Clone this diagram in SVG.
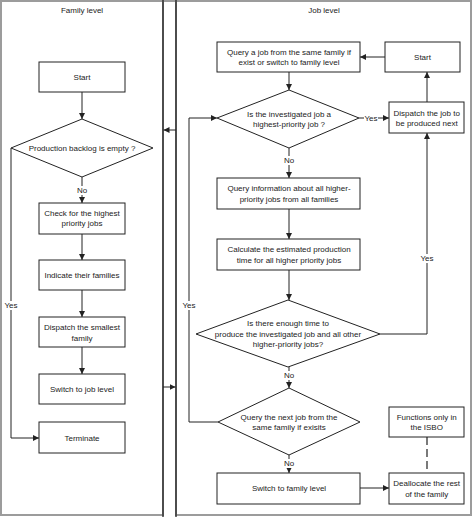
<svg xmlns="http://www.w3.org/2000/svg" width="474" height="517" viewBox="0 0 474 517">
<style>
.frame{fill:#fff;stroke:#9c9c9c;stroke-width:2}
.div{stroke:#222;stroke-width:1.3;fill:none}
.box{fill:#fff;stroke:#222;stroke-width:1}
.ln{fill:none;stroke:#222;stroke-width:1}
.dash{fill:none;stroke:#222;stroke-width:1.2;stroke-dasharray:8,4}
text{font-family:"Liberation Sans",Arial,sans-serif;font-size:8px;fill:#222;text-anchor:middle}
.lbg{fill:#fff;stroke:none}
</style>
<defs>
<marker id="ah" viewBox="0 0 6 6" refX="6" refY="3" markerWidth="6" markerHeight="6" markerUnits="userSpaceOnUse" orient="auto">
<path d="M0,0 L6,3 L0,6 z" fill="#222"/>
</marker>
</defs>

<g id="panels">
<rect class="frame" x="1" y="1" width="162" height="514"/>
<rect class="frame" x="176" y="1" width="295" height="514"/>
<line x1="163" y1="1" x2="176" y2="1" stroke="#9c9c9c" stroke-width="2"/>
<line class="div" x1="163" y1="0" x2="163" y2="517"/>
<line class="div" x1="176" y1="0" x2="176" y2="517"/>
<text x="82" y="13">Family level</text>
<text x="324" y="13">Job level</text>
</g>

<g id="connectors">
<line class="ln" x1="176" y1="130" x2="163.5" y2="130" marker-end="url(#ah)"/>
<line class="ln" x1="163" y1="387" x2="175.5" y2="387" marker-end="url(#ah)"/>
<!-- left -->
<line class="ln" x1="82" y1="92" x2="82" y2="119" marker-end="url(#ah)"/>
<line class="ln" x1="82" y1="177" x2="82" y2="203" marker-end="url(#ah)"/>
<line class="ln" x1="82" y1="234" x2="82" y2="260" marker-end="url(#ah)"/>
<line class="ln" x1="82" y1="290" x2="82" y2="317" marker-end="url(#ah)"/>
<line class="ln" x1="82" y1="347" x2="82" y2="374" marker-end="url(#ah)"/>
<polyline class="ln" points="11,148 11,438 39,438" marker-end="url(#ah)"/>
<!-- right -->
<line class="ln" x1="385" y1="57" x2="360" y2="57" marker-end="url(#ah)"/>
<line class="ln" x1="289" y1="72" x2="289" y2="90" marker-end="url(#ah)"/>
<line class="ln" x1="359" y1="118" x2="389" y2="118" marker-end="url(#ah)"/>
<line class="ln" x1="427" y1="102" x2="427" y2="72" marker-end="url(#ah)"/>
<line class="ln" x1="289" y1="148" x2="289" y2="178" marker-end="url(#ah)"/>
<line class="ln" x1="289" y1="209" x2="289" y2="239" marker-end="url(#ah)"/>
<line class="ln" x1="289" y1="270" x2="289" y2="300" marker-end="url(#ah)"/>
<polyline class="ln" points="380,334 427,334 427,133" marker-end="url(#ah)"/>
<line class="ln" x1="289" y1="367" x2="289" y2="388" marker-end="url(#ah)"/>
<polyline class="ln" points="218,422 189,422 189,118 217,118" marker-end="url(#ah)"/>
<line class="ln" x1="289" y1="455" x2="289" y2="473" marker-end="url(#ah)"/>
<line class="ln" x1="360" y1="488" x2="389" y2="488" marker-end="url(#ah)"/>
<line class="dash" x1="427" y1="437" x2="427" y2="473"/>
<!-- labels -->
<rect class="lbg" x="76" y="186" width="12" height="9"/>
<text x="82" y="193">No</text>
<rect class="lbg" x="4" y="301" width="15" height="9"/>
<text x="11" y="308">Yes</text>
<rect class="lbg" x="364" y="114" width="14" height="9"/>
<text x="371" y="121">Yes</text>
<rect class="lbg" x="283" y="156" width="12" height="9"/>
<text x="289" y="163">No</text>
<rect class="lbg" x="420" y="254" width="15" height="9"/>
<text x="427" y="261">Yes</text>
<rect class="lbg" x="283" y="371" width="12" height="9"/>
<text x="289" y="378">No</text>
<rect class="lbg" x="182" y="301" width="15" height="9"/>
<text x="189" y="308">Yes</text>
<rect class="lbg" x="283" y="459" width="12" height="9"/>
<text x="289" y="466">No</text>
</g>

<g id="start-family">
<rect class="box" x="39" y="62" width="86" height="30"/>
<text x="82" y="80">Start</text>
</g>
<g id="backlog-empty">
<polygon class="box" points="82,119 153,148 82,177 11,148"/>
<text x="82" y="151">Production backlog is empty ?</text>
</g>
<g id="check-highest">
<rect class="box" x="39" y="203" width="86" height="31"/>
<text x="82" y="215.5">Check for the highest</text>
<text x="82" y="226">priority jobs</text>
</g>
<g id="indicate-families">
<rect class="box" x="39" y="260" width="86" height="30"/>
<text x="82" y="278">Indicate their families</text>
</g>
<g id="dispatch-smallest">
<rect class="box" x="39" y="317" width="86" height="30"/>
<text x="82" y="330">Dispatch the smallest</text>
<text x="82" y="340.5">family</text>
</g>
<g id="switch-job">
<rect class="box" x="39" y="374" width="86" height="30"/>
<text x="82" y="392">Switch to job level</text>
</g>
<g id="terminate">
<rect class="box" x="39" y="422" width="86" height="31"/>
<text x="82" y="441">Terminate</text>
</g>

<g id="query-job">
<rect class="box" x="217" y="42" width="143" height="30"/>
<text x="289" y="55.3">Query a job from the same family if</text>
<text x="289" y="64.7">exist or switch to family level</text>
</g>
<g id="start-job">
<rect class="box" x="385" y="42" width="75" height="30"/>
<text x="422.5" y="59.7">Start</text>
</g>
<g id="highest-priority">
<polygon class="box" points="289,90 359,118 289,148 217,118"/>
<text x="289" y="117">Is the investigated job a</text>
<text x="289" y="127">highest-priority job ?</text>
</g>
<g id="dispatch-job">
<rect class="box" x="389" y="102" width="75" height="31"/>
<text x="426.7" y="115.7">Dispatch the job to</text>
<text x="426.7" y="125.7">be produced next</text>
</g>
<g id="query-info">
<rect class="box" x="217" y="178" width="143" height="31"/>
<text x="289" y="191.3">Query information about all higher-</text>
<text x="289" y="202">priority jobs from all families</text>
</g>
<g id="calculate">
<rect class="box" x="217" y="239" width="143" height="31"/>
<text x="289" y="252.3">Calculate the estimated production</text>
<text x="289" y="263">time for all higher priority jobs</text>
</g>
<g id="enough-time">
<polygon class="box" points="288,300 380,334 288,367 196,334"/>
<text x="288" y="326.3">Is there enough time to</text>
<text x="288" y="336.7">produce the investigated job and all other</text>
<text x="288" y="347">higher-priority jobs?</text>
</g>
<g id="query-next">
<polygon class="box" points="289,388 360,422 289,455 218,422"/>
<text x="289" y="419.7">Query the next job from the</text>
<text x="289" y="429.7">same family if exisits</text>
</g>
<g id="switch-family">
<rect class="box" x="217" y="473" width="143" height="31"/>
<text x="289" y="491.3">Switch to family level</text>
</g>
<g id="isbo">
<rect class="box" x="389" y="407" width="75" height="30"/>
<text x="426.7" y="419.7">Functions only in</text>
<text x="426.7" y="429.7">the ISBO</text>
</g>
<g id="deallocate">
<rect class="box" x="389" y="473" width="75" height="31"/>
<text x="426.7" y="486.3">Deallocate the rest</text>
<text x="426.7" y="497">of the family</text>
</g>
</svg>
